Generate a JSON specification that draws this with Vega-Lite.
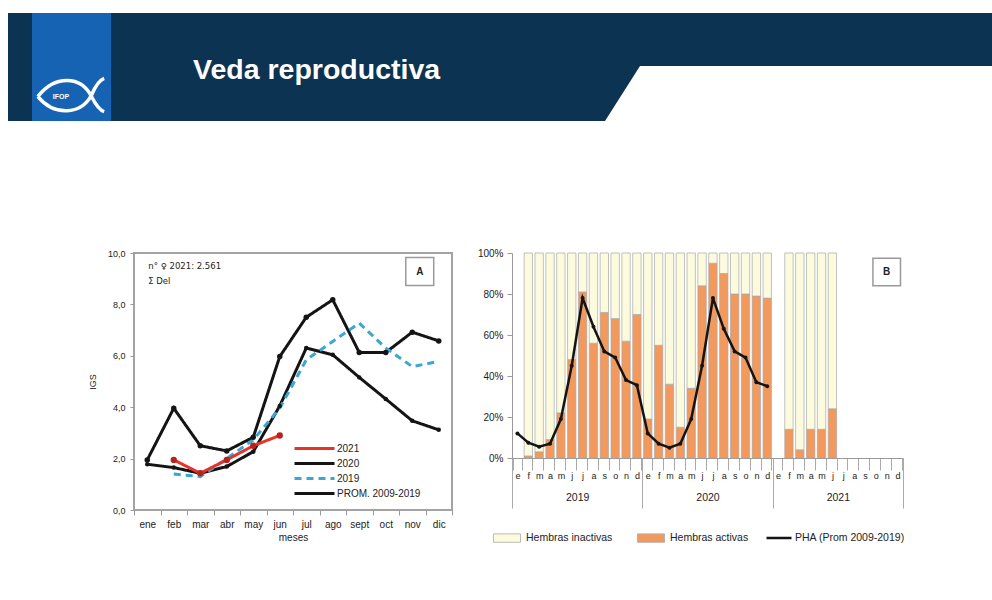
{
  "$schema": "https://vega.github.io/schema/vega-lite/v6.json",
  "background": "white",
  "padding": 0,
  "spacing": 127,
  "config": {"view": {"stroke": null}, "font": "Liberation Sans"},
  "datasets": {
    "banner": [
      {"x": 8, "top": 13, "bot": 121},
      {"x": 605, "top": 13, "bot": 121},
      {"x": 640, "top": 13, "bot": 66},
      {"x": 992, "top": 13, "bot": 66}
    ],
    "igs": [
      {"mes": "ene", "serie": "2020", "igs": 1.95}, {"mes": "feb", "serie": "2020", "igs": 3.96}, {"mes": "mar", "serie": "2020", "igs": 2.5}, {"mes": "abr", "serie": "2020", "igs": 2.3}, {"mes": "may", "serie": "2020", "igs": 2.83}, {"mes": "jun", "serie": "2020", "igs": 5.97}, {"mes": "jul", "serie": "2020", "igs": 7.5}, {"mes": "ago", "serie": "2020", "igs": 8.18}, {"mes": "sept", "serie": "2020", "igs": 6.13}, {"mes": "oct", "serie": "2020", "igs": 6.13}, {"mes": "nov", "serie": "2020", "igs": 6.92}, {"mes": "dic", "serie": "2020", "igs": 6.58},
      {"mes": "ene", "serie": "PROM. 2009-2019", "igs": 1.78}, {"mes": "feb", "serie": "PROM. 2009-2019", "igs": 1.65}, {"mes": "mar", "serie": "PROM. 2009-2019", "igs": 1.43}, {"mes": "abr", "serie": "PROM. 2009-2019", "igs": 1.69}, {"mes": "may", "serie": "PROM. 2009-2019", "igs": 2.27}, {"mes": "jun", "serie": "PROM. 2009-2019", "igs": 4.05}, {"mes": "jul", "serie": "PROM. 2009-2019", "igs": 6.3}, {"mes": "ago", "serie": "PROM. 2009-2019", "igs": 6.04}, {"mes": "sept", "serie": "PROM. 2009-2019", "igs": 5.16}, {"mes": "oct", "serie": "PROM. 2009-2019", "igs": 4.32}, {"mes": "nov", "serie": "PROM. 2009-2019", "igs": 3.47}, {"mes": "dic", "serie": "PROM. 2009-2019", "igs": 3.12},
      {"mes": "feb", "serie": "2019", "igs": 1.4}, {"mes": "mar", "serie": "2019", "igs": 1.3}, {"mes": "abr", "serie": "2019", "igs": 2.0}, {"mes": "may", "serie": "2019", "igs": 2.73}, {"mes": "jun", "serie": "2019", "igs": 3.96}, {"mes": "jul", "serie": "2019", "igs": 5.84}, {"mes": "ago", "serie": "2019", "igs": 6.56}, {"mes": "sept", "serie": "2019", "igs": 7.27}, {"mes": "oct", "serie": "2019", "igs": 6.3}, {"mes": "nov", "serie": "2019", "igs": 5.58}, {"mes": "dic", "serie": "2019", "igs": 5.78},
      {"mes": "feb", "serie": "2021", "igs": 1.95}, {"mes": "mar", "serie": "2021", "igs": 1.43}, {"mes": "abr", "serie": "2021", "igs": 1.95}, {"mes": "may", "serie": "2021", "igs": 2.5}, {"mes": "jun", "serie": "2021", "igs": 2.9}
    ],
    "act": [
      {"key": "2019-02", "tipo": "Hembras activas", "ord": 1, "pct": 1}, {"key": "2019-02", "tipo": "Hembras inactivas", "ord": 2, "pct": 99},
      {"key": "2019-03", "tipo": "Hembras activas", "ord": 1, "pct": 3}, {"key": "2019-03", "tipo": "Hembras inactivas", "ord": 2, "pct": 97},
      {"key": "2019-04", "tipo": "Hembras activas", "ord": 1, "pct": 9}, {"key": "2019-04", "tipo": "Hembras inactivas", "ord": 2, "pct": 91},
      {"key": "2019-05", "tipo": "Hembras activas", "ord": 1, "pct": 22}, {"key": "2019-05", "tipo": "Hembras inactivas", "ord": 2, "pct": 78},
      {"key": "2019-06", "tipo": "Hembras activas", "ord": 1, "pct": 48}, {"key": "2019-06", "tipo": "Hembras inactivas", "ord": 2, "pct": 52},
      {"key": "2019-07", "tipo": "Hembras activas", "ord": 1, "pct": 81}, {"key": "2019-07", "tipo": "Hembras inactivas", "ord": 2, "pct": 19},
      {"key": "2019-08", "tipo": "Hembras activas", "ord": 1, "pct": 56}, {"key": "2019-08", "tipo": "Hembras inactivas", "ord": 2, "pct": 44},
      {"key": "2019-09", "tipo": "Hembras activas", "ord": 1, "pct": 71}, {"key": "2019-09", "tipo": "Hembras inactivas", "ord": 2, "pct": 29},
      {"key": "2019-10", "tipo": "Hembras activas", "ord": 1, "pct": 68}, {"key": "2019-10", "tipo": "Hembras inactivas", "ord": 2, "pct": 32},
      {"key": "2019-11", "tipo": "Hembras activas", "ord": 1, "pct": 57}, {"key": "2019-11", "tipo": "Hembras inactivas", "ord": 2, "pct": 43},
      {"key": "2019-12", "tipo": "Hembras activas", "ord": 1, "pct": 70}, {"key": "2019-12", "tipo": "Hembras inactivas", "ord": 2, "pct": 30},
      {"key": "2020-01", "tipo": "Hembras activas", "ord": 1, "pct": 19}, {"key": "2020-01", "tipo": "Hembras inactivas", "ord": 2, "pct": 81},
      {"key": "2020-02", "tipo": "Hembras activas", "ord": 1, "pct": 55}, {"key": "2020-02", "tipo": "Hembras inactivas", "ord": 2, "pct": 45},
      {"key": "2020-03", "tipo": "Hembras activas", "ord": 1, "pct": 36}, {"key": "2020-03", "tipo": "Hembras inactivas", "ord": 2, "pct": 64},
      {"key": "2020-04", "tipo": "Hembras activas", "ord": 1, "pct": 15}, {"key": "2020-04", "tipo": "Hembras inactivas", "ord": 2, "pct": 85},
      {"key": "2020-05", "tipo": "Hembras activas", "ord": 1, "pct": 34}, {"key": "2020-05", "tipo": "Hembras inactivas", "ord": 2, "pct": 66},
      {"key": "2020-06", "tipo": "Hembras activas", "ord": 1, "pct": 84}, {"key": "2020-06", "tipo": "Hembras inactivas", "ord": 2, "pct": 16},
      {"key": "2020-07", "tipo": "Hembras activas", "ord": 1, "pct": 95}, {"key": "2020-07", "tipo": "Hembras inactivas", "ord": 2, "pct": 5},
      {"key": "2020-08", "tipo": "Hembras activas", "ord": 1, "pct": 90}, {"key": "2020-08", "tipo": "Hembras inactivas", "ord": 2, "pct": 10},
      {"key": "2020-09", "tipo": "Hembras activas", "ord": 1, "pct": 80}, {"key": "2020-09", "tipo": "Hembras inactivas", "ord": 2, "pct": 20},
      {"key": "2020-10", "tipo": "Hembras activas", "ord": 1, "pct": 80}, {"key": "2020-10", "tipo": "Hembras inactivas", "ord": 2, "pct": 20},
      {"key": "2020-11", "tipo": "Hembras activas", "ord": 1, "pct": 79}, {"key": "2020-11", "tipo": "Hembras inactivas", "ord": 2, "pct": 21},
      {"key": "2020-12", "tipo": "Hembras activas", "ord": 1, "pct": 78}, {"key": "2020-12", "tipo": "Hembras inactivas", "ord": 2, "pct": 22},
      {"key": "2021-02", "tipo": "Hembras activas", "ord": 1, "pct": 14}, {"key": "2021-02", "tipo": "Hembras inactivas", "ord": 2, "pct": 86},
      {"key": "2021-03", "tipo": "Hembras activas", "ord": 1, "pct": 4}, {"key": "2021-03", "tipo": "Hembras inactivas", "ord": 2, "pct": 96},
      {"key": "2021-04", "tipo": "Hembras activas", "ord": 1, "pct": 14}, {"key": "2021-04", "tipo": "Hembras inactivas", "ord": 2, "pct": 86},
      {"key": "2021-05", "tipo": "Hembras activas", "ord": 1, "pct": 14}, {"key": "2021-05", "tipo": "Hembras inactivas", "ord": 2, "pct": 86},
      {"key": "2021-06", "tipo": "Hembras activas", "ord": 1, "pct": 24}, {"key": "2021-06", "tipo": "Hembras inactivas", "ord": 2, "pct": 76}
    ],
    "pha": [
      {"key": "2019-01", "serie": "PHA (Prom 2009-2019)", "pct": 12}, {"key": "2019-02", "serie": "PHA (Prom 2009-2019)", "pct": 7.5}, {"key": "2019-03", "serie": "PHA (Prom 2009-2019)", "pct": 5.5}, {"key": "2019-04", "serie": "PHA (Prom 2009-2019)", "pct": 7}, {"key": "2019-05", "serie": "PHA (Prom 2009-2019)", "pct": 19}, {"key": "2019-06", "serie": "PHA (Prom 2009-2019)", "pct": 45}, {"key": "2019-07", "serie": "PHA (Prom 2009-2019)", "pct": 78}, {"key": "2019-08", "serie": "PHA (Prom 2009-2019)", "pct": 64}, {"key": "2019-09", "serie": "PHA (Prom 2009-2019)", "pct": 52}, {"key": "2019-10", "serie": "PHA (Prom 2009-2019)", "pct": 49}, {"key": "2019-11", "serie": "PHA (Prom 2009-2019)", "pct": 38}, {"key": "2019-12", "serie": "PHA (Prom 2009-2019)", "pct": 35.5},
      {"key": "2020-01", "serie": "PHA (Prom 2009-2019)", "pct": 12}, {"key": "2020-02", "serie": "PHA (Prom 2009-2019)", "pct": 7}, {"key": "2020-03", "serie": "PHA (Prom 2009-2019)", "pct": 5}, {"key": "2020-04", "serie": "PHA (Prom 2009-2019)", "pct": 7}, {"key": "2020-05", "serie": "PHA (Prom 2009-2019)", "pct": 19}, {"key": "2020-06", "serie": "PHA (Prom 2009-2019)", "pct": 45}, {"key": "2020-07", "serie": "PHA (Prom 2009-2019)", "pct": 78}, {"key": "2020-08", "serie": "PHA (Prom 2009-2019)", "pct": 63}, {"key": "2020-09", "serie": "PHA (Prom 2009-2019)", "pct": 52}, {"key": "2020-10", "serie": "PHA (Prom 2009-2019)", "pct": 49}, {"key": "2020-11", "serie": "PHA (Prom 2009-2019)", "pct": 37}, {"key": "2020-12", "serie": "PHA (Prom 2009-2019)", "pct": 35}
    ],
    "years": [{"year": "2019"}, {"year": "2020"}, {"year": "2021"}]
  },
  "vconcat": [
    {
      "width": 992,
      "height": 121,
      "layer": [
        {
          "data": {"name": "banner"},
          "mark": {"type": "area", "color": "#0d3352"},
          "encoding": {
            "x": {"field": "x", "type": "quantitative", "scale": {"domain": [0, 992], "nice": false, "zero": false}, "axis": null},
            "y": {"field": "top", "type": "quantitative", "scale": {"domain": [121, 0], "nice": false, "zero": false}, "axis": null},
            "y2": {"field": "bot"}
          }
        },
        {
          "data": {"values": [{"x": 32, "x2": 111, "y": 13, "y2": 121}]},
          "mark": {"type": "rect", "color": "#1763b3"},
          "encoding": {
            "x": {"field": "x", "type": "quantitative"},
            "x2": {"field": "x2"},
            "y": {"field": "y", "type": "quantitative"},
            "y2": {"field": "y2"}
          }
        },
        {
          "data": {"values": [{"x": 71, "y": 95}]},
          "mark": {"type": "point", "shape": "M -1 0.05 C -0.5 -0.6 0.3 -0.6 0.62 0.05 C 0.75 0.3 0.85 0.45 1 0.5 M -1 0.05 C -0.5 0.65 0.3 0.6 0.62 0 C 0.75 -0.3 0.85 -0.45 1 -0.5", "size": 4400, "filled": false, "stroke": "white", "strokeWidth": 3.5, "opacity": 1},
          "encoding": {
            "x": {"field": "x", "type": "quantitative"},
            "y": {"field": "y", "type": "quantitative"}
          }
        },
        {
          "data": {"values": [{"x": 61, "y": 97, "t": "IFOP"}]},
          "mark": {"type": "text", "color": "white", "fontSize": 7, "fontWeight": "bold", "align": "center", "baseline": "middle"},
          "encoding": {
            "x": {"field": "x", "type": "quantitative"},
            "y": {"field": "y", "type": "quantitative"},
            "text": {"field": "t"}
          }
        },
        {
          "data": {"values": [{"x": 193, "y": 79, "t": "Veda reproductiva"}]},
          "mark": {"type": "text", "color": "white", "fontSize": 28.5, "fontWeight": "bold", "align": "left", "baseline": "alphabetic"},
          "encoding": {
            "x": {"field": "x", "type": "quantitative"},
            "y": {"field": "y", "type": "quantitative"},
            "text": {"field": "t"}
          }
        }
      ]
    },
    {
      "spacing": 23,
      "resolve": {"scale": {"x": "independent", "y": "independent", "color": "independent", "fill": "independent", "stroke": "independent", "strokeDash": "independent"}},
      "hconcat": [
        {
          "width": 64,
          "height": 10,
          "data": {"values": [{}]},
          "mark": {"type": "point", "opacity": 0},
          "encoding": {}
        },
        {
          "width": 318,
          "height": 257,
          "view": {"stroke": "#a3a3a3", "strokeWidth": 2},
          "data": {"name": "igs"},
          "encoding": {
            "x": {
              "field": "mes", "type": "ordinal",
              "scale": {"type": "band", "domain": ["ene", "feb", "mar", "abr", "may", "jun", "jul", "ago", "sept", "oct", "nov", "dic"], "paddingInner": 0, "paddingOuter": 0},
              "axis": {"title": "meses", "labelAngle": 0, "domain": false, "tickBand": "extent", "tickSize": 5, "tickColor": "#999", "labelPadding": 4, "labelFontSize": 10, "labelColor": "#222", "titleFontSize": 10, "titleFontWeight": "normal", "titleColor": "#222", "titlePadding": 3}
            },
            "y": {
              "field": "igs", "type": "quantitative",
              "scale": {"domain": [0, 10], "nice": false},
              "axis": {"title": "IGS", "values": [0, 2, 4, 6, 8, 10], "labelExpr": "replace(format(datum.value, '.1f'), '.', ',')", "domain": false, "grid": false, "tickSize": 4, "tickColor": "#999", "labelPadding": 5, "labelFontSize": 9, "labelColor": "#222", "titleFontSize": 9, "titleFontWeight": "normal", "titleColor": "#222", "titlePadding": 10}
            }
          },
          "layer": [
            {
              "mark": {"type": "line", "strokeWidth": 3},
              "encoding": {
                "color": {
                  "field": "serie", "type": "nominal",
                  "scale": {"domain": ["2021", "2020", "2019", "PROM. 2009-2019"], "range": ["#e8332b", "#141414", "#3aa7d2", "#141414"]},
                  "legend": {"orient": "none", "legendX": 159, "legendY": 188, "title": null, "symbolType": "stroke", "symbolSize": 1600, "symbolStrokeWidth": 3, "labelFontSize": 10, "labelColor": "#222", "clipHeight": 15, "rowPadding": 0, "labelOffset": 1}
                },
                "strokeDash": {
                  "field": "serie", "type": "nominal",
                  "scale": {"domain": ["2021", "2020", "2019", "PROM. 2009-2019"], "range": [[1, 0], [1, 0], [7, 5], [1, 0]]},
                  "legend": {"orient": "none", "legendX": 159, "legendY": 188, "title": null, "symbolType": "stroke", "symbolSize": 1600, "symbolStrokeWidth": 3, "labelFontSize": 10, "labelColor": "#222", "clipHeight": 15, "rowPadding": 0, "labelOffset": 1}
                }
              }
            },
            {
              "transform": [{"filter": "datum.serie != '2019'"}],
              "mark": {"type": "point", "filled": true, "opacity": 1},
              "encoding": {
                "fill": {
                  "field": "serie", "type": "nominal",
                  "scale": {"domain": ["2021", "2020", "PROM. 2009-2019"], "range": ["#b8221c", "#141414", "#141414"]},
                  "legend": null
                },
                "size": {
                  "field": "serie", "type": "nominal",
                  "scale": {"domain": ["2021", "2020", "PROM. 2009-2019"], "range": [40, 20, 20]},
                  "legend": null
                }
              }
            },
            {
              "data": {"values": [{"t": "n° ♀ 2021: 2.561", "v": 9.5}, {"t": "Σ Del", "v": 8.9}]},
              "mark": {"type": "text", "align": "left", "baseline": "middle", "fontSize": 8.5, "font": "DejaVu Sans", "color": "#222", "dx": 1},
              "encoding": {
                "x": {"datum": "ene"},
                "y": {"field": "v", "type": "quantitative"},
                "text": {"field": "t"}
              }
            },
            {
              "data": {"values": [{"t": "A", "v": 9.28}]},
              "mark": {"type": "point", "shape": "square", "size": 780, "filled": true, "fill": "white", "stroke": "#9a9a9a", "strokeWidth": 1.5, "opacity": 1, "xOffset": -19},
              "encoding": {
                "x": {"datum": "dic"},
                "y": {"field": "v", "type": "quantitative"}
              }
            },
            {
              "data": {"values": [{"t": "A", "v": 9.28}]},
              "mark": {"type": "text", "fontSize": 10, "fontWeight": "bold", "color": "#222", "align": "center", "baseline": "middle", "xOffset": -19},
              "encoding": {
                "x": {"datum": "dic"},
                "y": {"field": "v", "type": "quantitative"},
                "text": {"field": "t"}
              }
            }
          ]
        },
        {
          "width": 391,
          "height": 205,
          "resolve": {"scale": {"x": "independent"}},
          "layer": [
            {
              "encoding": {
                "x": {
                  "field": "key", "type": "ordinal",
                  "scale": {"type": "band", "domain": ["2019-01","2019-02","2019-03","2019-04","2019-05","2019-06","2019-07","2019-08","2019-09","2019-10","2019-11","2019-12","2020-01","2020-02","2020-03","2020-04","2020-05","2020-06","2020-07","2020-08","2020-09","2020-10","2020-11","2020-12","2021-01","2021-02","2021-03","2021-04","2021-05","2021-06","2021-07","2021-08","2021-09","2021-10","2021-11","2021-12"], "paddingInner": 0.23, "paddingOuter": 0.115},
                  "axis": {"orient": "bottom", "title": null, "labelAngle": 0, "labelExpr": "substring('efmamjjasond', toNumber(substring(datum.value, 5, 7)) - 1, toNumber(substring(datum.value, 5, 7)))", "tickBand": "extent", "tickSize": 12, "tickColor": "#aaa", "domainColor": "#999", "labelPadding": 1, "labelFontSize": 9, "labelColor": "#222"}
                },
                "y": {
                  "field": "pct", "type": "quantitative",
                  "scale": {"domain": [0, 100], "nice": false},
                  "axis": {"title": null, "values": [0, 20, 40, 60, 80, 100], "labelExpr": "datum.value + '%'", "grid": false, "tickSize": 5, "tickColor": "#999", "domainColor": "#999", "labelPadding": 4, "labelFontSize": 10, "labelColor": "#222"}
                }
              },
              "layer": [
                {
                  "data": {"name": "act"},
                  "mark": {"type": "bar", "stroke": "#a8a8a8", "strokeWidth": 0.7},
                  "encoding": {
                    "y": {"field": "pct", "type": "quantitative", "stack": "zero"},
                    "order": {"field": "ord", "type": "quantitative"},
                    "fill": {
                      "field": "tipo", "type": "nominal",
                      "scale": {"domain": ["Hembras inactivas", "Hembras activas"], "range": ["#fdfbdd", "#f29a5e"]},
                      "legend": {"orient": "none", "direction": "horizontal", "legendX": -14, "legendY": 276, "title": null, "symbolType": "M-1.6,-0.5H1.6V0.5H-1.6Z", "symbolSize": 285, "symbolStrokeColor": "#aaa", "symbolStrokeWidth": 0.8, "labelFontSize": 10.5, "labelColor": "#222", "columnPadding": 22, "labelOffset": 10}
                    }
                  }
                },
                {
                  "data": {"name": "pha"},
                  "mark": {"type": "line", "strokeWidth": 2.5},
                  "encoding": {
                    "stroke": {
                      "field": "serie", "type": "nominal",
                      "scale": {"domain": ["PHA (Prom 2009-2019)"], "range": ["#141414"]},
                      "legend": {"orient": "none", "legendX": 253, "legendY": 279, "title": null, "symbolType": "stroke", "symbolSize": 625, "symbolStrokeWidth": 2.5, "labelFontSize": 10.5, "labelColor": "#222", "labelOffset": 2, "clipHeight": 12}
                    }
                  }
                },
                {
                  "data": {"name": "pha"},
                  "mark": {"type": "point", "filled": true, "size": 16, "color": "#141414", "opacity": 1}
                },
                {
                  "data": {"values": [{"v": 90.7}]},
                  "mark": {"type": "point", "shape": "square", "size": 760, "filled": true, "fill": "white", "stroke": "#9a9a9a", "strokeWidth": 1.5, "opacity": 1},
                  "encoding": {"x": {"datum": "2021-11"}, "y": {"field": "v", "type": "quantitative"}}
                },
                {
                  "data": {"values": [{"v": 90.7, "t": "B"}]},
                  "mark": {"type": "text", "fontSize": 10, "fontWeight": "bold", "color": "#222", "align": "center", "baseline": "middle"},
                  "encoding": {"x": {"datum": "2021-11"}, "y": {"field": "v", "type": "quantitative"}, "text": {"field": "t"}}
                }
              ]
            },
            {
              "data": {"name": "years"},
              "mark": {"type": "tick", "opacity": 0},
              "encoding": {
                "x": {
                  "field": "year", "type": "ordinal",
                  "scale": {"type": "band", "paddingInner": 0, "paddingOuter": 0},
                  "axis": {"orient": "bottom", "title": null, "domain": false, "labelAngle": 0, "tickBand": "extent", "tickSize": 50, "tickColor": "#aaa", "labelPadding": -16, "labelFontSize": 10.5, "labelColor": "#222"}
                }
              }
            }
          ]
        }
      ]
    }
  ]
}
